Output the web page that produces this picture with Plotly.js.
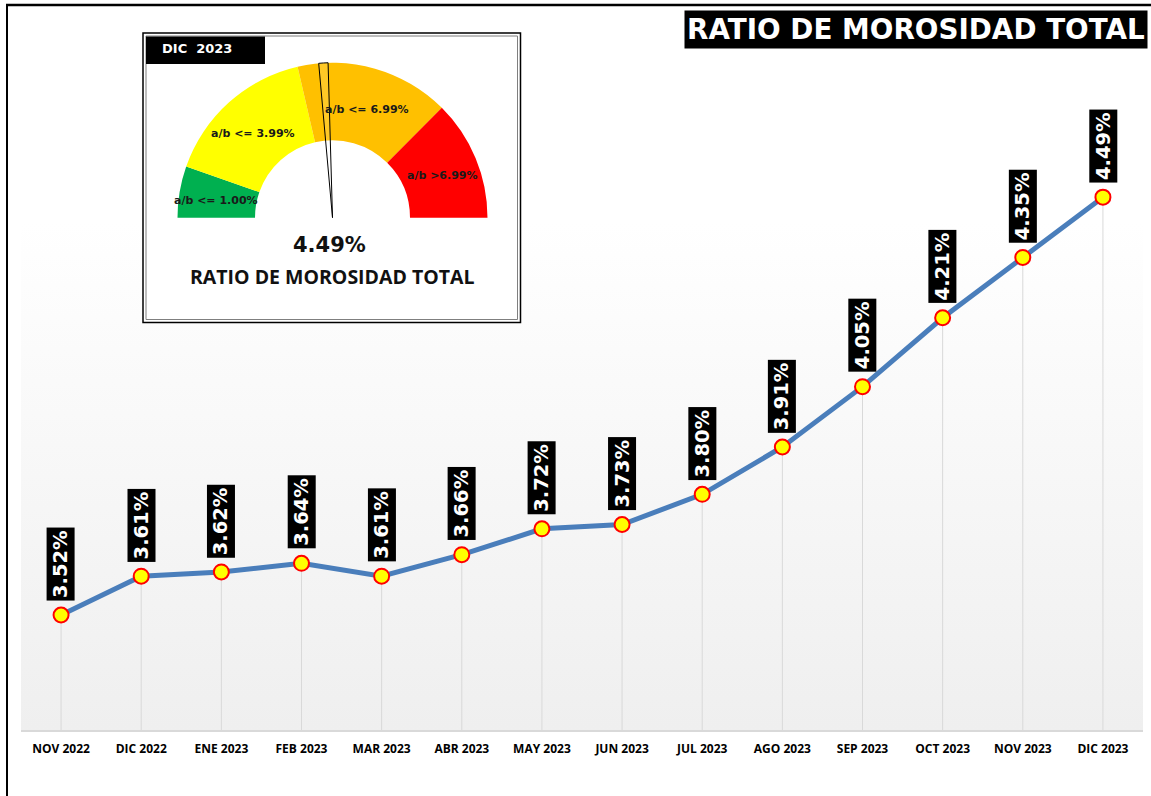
<!DOCTYPE html>
<html>
<head>
<meta charset="utf-8">
<script src="https://cdn.plot.ly/plotly-3.0.1.min.js"></script>
<style>html,body{margin:0;padding:0;background:#fff;}#chart{width:1151px;height:796px;}</style>
</head>
<body>
<div id="chart"></div>
<script>
// ---- data ----
const months = ['NOV 2022','DIC 2022','ENE 2023','FEB 2023','MAR 2023','ABR 2023','MAY 2023','JUN 2023','JUL 2023','AGO 2023','SEP 2023','OCT 2023','NOV 2023','DIC 2023'];
const ratio = [3.52, 3.61, 3.62, 3.64, 3.61, 3.66, 3.72, 3.73, 3.80, 3.91, 4.05, 4.21, 4.35, 4.49];
const gaugeThresholds = [1.00, 3.99, 6.99, 9.33];
const gaugeLabels = ['a/b <= 1.00%', 'a/b <= 3.99%', 'a/b <= 6.99%', 'a/b >6.99%'];
const gaugeColors = ['#00b050', '#ffff00', '#ffc000', '#ff0000'];
const gaugeValue = 4.49;
const gaugePeriod = 'DIC  2023';
const chartTitle = 'RATIO DE MOROSIDAD TOTAL';

// ---- layout geometry (pixels) ----
const W = 1151, H = 796;
const L = 21, R = 1143, T = 5, B = 730;
const PW = R - L, PH = B - T;
const px = x => (x - L) / PW;
const py = y => (B - y) / PH;
const yMin = 3.253, yMax = 4.936;

// gradient background
const svg = '<svg xmlns="http://www.w3.org/2000/svg" width="100" height="100" preserveAspectRatio="none"><defs><linearGradient id="g" x1="0" y1="0" x2="0" y2="1"><stop offset="0" stop-color="#ffffff"/><stop offset="0.3" stop-color="#ffffff"/><stop offset="1" stop-color="#efefef"/></linearGradient></defs><rect width="100" height="100" fill="url(#g)"/></svg>';
const bgSrc = 'data:image/svg+xml;utf8,' + encodeURIComponent(svg);

// gauge pie geometry
const gcx = 332.5, gcy = 217.7, gr = 155;
const pieDomain = {x: [px(gcx - gr), px(gcx + gr)], y: [py(gcy + gr), py(gcy - gr)]};
const gaugeMax = gaugeThresholds[gaugeThresholds.length - 1];
const bandVals = gaugeThresholds.map((t, i) => t - (i ? gaugeThresholds[i - 1] : 0));
const needleW = 0.18;

const traces = [
  { // drop lines
    type: 'scatter', mode: 'markers', x: months, y: ratio,
    marker: {size: 1, color: 'rgba(0,0,0,0)'},
    error_y: {type: 'data', symmetric: false, array: ratio.map(() => 0), arrayminus: ratio.map(v => v - yMin),
              color: '#d9d9d9', thickness: 1, width: 0},
    hoverinfo: 'skip', showlegend: false
  },
  { // main line
    type: 'scatter', mode: 'lines+markers', x: months, y: ratio,
    line: {color: '#4a7ebb', width: 5},
    marker: {size: 15, color: '#ffff00', line: {color: '#ff0000', width: 2}},
    showlegend: false
  },
  { // gauge bands
    type: 'pie', values: bandVals.concat([gaugeMax]), sort: false, direction: 'clockwise', rotation: 270,
    hole: 0.5, domain: pieDomain, textinfo: 'none', hoverinfo: 'skip', showlegend: false,
    marker: {colors: gaugeColors.concat(['rgba(0,0,0,0)']), line: {width: 0}}
  },
  { // needle
    type: 'pie', values: [gaugeValue - needleW / 2, needleW, 2 * gaugeMax - gaugeValue - needleW / 2],
    sort: false, direction: 'clockwise', rotation: 270, hole: 0, domain: pieDomain,
    textinfo: 'none', hoverinfo: 'skip', showlegend: false,
    marker: {colors: ['rgba(0,0,0,0)', 'rgba(255,255,255,0.15)', 'rgba(0,0,0,0)'],
             line: {color: ['rgba(0,0,0,0)', '#000000', 'rgba(0,0,0,0)'], width: [0, 1, 0]}}
  }
];

const annotations = ratio.map((v, i) => ({
  x: months[i], y: v, xref: 'x', yref: 'y', text: v.toFixed(2) + '%',
  showarrow: true, arrowcolor: 'rgba(0,0,0,0)', ax: 0, ay: -51, textangle: -90,
  bgcolor: '#000000', borderpad: 2,
  font: {family: 'DejaVu Sans', size: 19.5, color: '#ffffff', weight: 'bold'}
}));

// title
annotations.push({
  xref: 'paper', yref: 'paper', x: px(1148), y: py(29.5), xanchor: 'right', yanchor: 'middle',
  text: chartTitle, showarrow: false, bgcolor: '#000000', borderpad: 2,
  font: {family: 'DejaVu Sans', size: 27.8, color: '#ffffff', weight: 'bold'}
});
// gauge period
annotations.push({
  xref: 'paper', yref: 'paper', x: px(197), y: py(48), xanchor: 'center', yanchor: 'middle',
  text: gaugePeriod, showarrow: false,
  font: {family: 'DejaVu Sans', size: 13, color: '#ffffff', weight: 'bold'}
});
// gauge band labels
const bandLabelPos = [[215.7, 200], [253, 134], [367, 110], [442.5, 176]];
gaugeLabels.forEach((t, i) => annotations.push({
  xref: 'paper', yref: 'paper', x: px(bandLabelPos[i][0]), y: py(bandLabelPos[i][1]),
  xanchor: 'center', yanchor: 'middle', text: t, showarrow: false,
  font: {family: 'DejaVu Sans', size: 11, color: '#1a1a1a', weight: 'bold'}
}));
// gauge value
annotations.push({
  xref: 'paper', yref: 'paper', x: px(329), y: py(245), xanchor: 'center', yanchor: 'middle',
  text: gaugeValue.toFixed(2) + '%', showarrow: false,
  font: {family: 'DejaVu Sans', size: 21, color: '#111111', weight: 'bold'}
});
annotations.push({
  xref: 'paper', yref: 'paper', x: px(332.5), y: py(277), xanchor: 'center', yanchor: 'middle',
  text: chartTitle, showarrow: false,
  font: {family: 'Open Sans', size: 19.5, color: '#111111', weight: 'bold'}
});

const shapes = [
  // gauge box
  {type: 'rect', xref: 'paper', yref: 'paper', x0: px(143), x1: px(520.5), y0: py(322.5), y1: py(33),
   fillcolor: '#ffffff', line: {color: '#000000', width: 1.5}, layer: 'below'},
  {type: 'rect', xref: 'paper', yref: 'paper', x0: px(146), x1: px(517.5), y0: py(319.5), y1: py(36),
   fillcolor: 'rgba(0,0,0,0)', line: {color: '#7f7f7f', width: 1}, layer: 'below'},
  {type: 'rect', xref: 'paper', yref: 'paper', x0: px(146), x1: px(265), y0: py(64), y1: py(36.5),
   fillcolor: '#000000', line: {width: 0}, layer: 'below'},
  // outer frame
  {type: 'line', xref: 'paper', yref: 'paper', x0: px(7), x1: px(7), y0: py(5), y1: py(800),
   line: {color: '#000000', width: 2}},
  {type: 'line', xref: 'paper', yref: 'paper', x0: px(6), x1: px(1155), y0: py(5), y1: py(5),
   line: {color: '#000000', width: 2.5}}
];

const layout = {
  width: W, height: H,
  margin: {l: L, r: W - R, t: T, b: H - B, pad: 0},
  paper_bgcolor: '#ffffff', plot_bgcolor: 'rgba(0,0,0,0)',
  showlegend: false,
  xaxis: {type: 'category', categoryarray: months, range: [-0.5, months.length - 0.5],
          showgrid: false, zeroline: false, showline: true, linecolor: '#d9d9d9', linewidth: 1.5,
          ticks: '', ticklabelstandoff: 7, fixedrange: true,
          tickfont: {family: 'Open Sans', size: 12, color: '#000000', weight: 'bold'}},
  yaxis: {range: [yMin, yMax], visible: false, showgrid: false, zeroline: false, fixedrange: true},
  images: [{source: bgSrc, xref: 'paper', yref: 'paper', x: 0, y: 1, sizex: 1, sizey: 1,
            sizing: 'stretch', xanchor: 'left', yanchor: 'top', layer: 'below'}],
  shapes: shapes,
  annotations: annotations
};

Plotly.newPlot('chart', traces, layout, {displayModeBar: false, staticPlot: true});
</script>
</body>
</html>
